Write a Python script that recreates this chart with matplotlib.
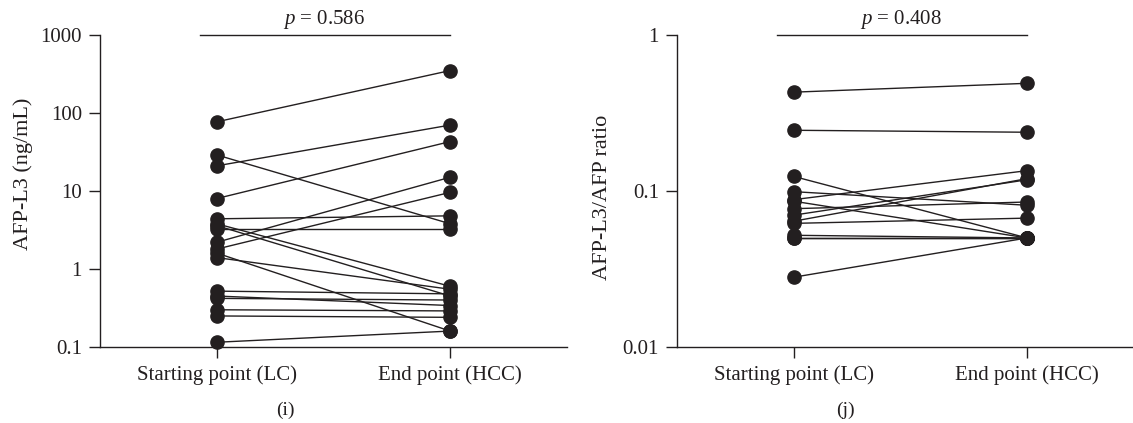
import numpy as np
import matplotlib.pyplot as plt

plt.rcParams['font.family'] = ['Liberation Serif', 'DejaVu Serif']
plt.rcParams['mathtext.fontset'] = 'custom'
plt.rcParams['mathtext.it'] = 'Liberation Serif:italic'
plt.rcParams['mathtext.rm'] = 'Liberation Serif'

categories = ['Starting point (LC)', 'End point (HCC)']

# panel (i): AFP-L3 (ng/mL), one pair per patient
afp_start = [77, 29, 21, 8.0, 4.4, 3.8, 3.6, 3.3, 2.2, 1.8, 1.6, 1.4, 0.52, 0.45, 0.42, 0.30, 0.25, 0.115]
afp_end = [350, 3.8, 70, 43, 4.8, 0.60, 0.45, 3.3, 15, 9.6, 0.16, 0.55, 0.48, 0.34, 0.40, 0.29, 0.24, 0.16]

# panel (j): AFP-L3/AFP ratio
ratio_start = [0.43, 0.245, 0.124, 0.099, 0.088, 0.086, 0.077, 0.070, 0.064, 0.062, 0.052, 0.050, 0.050, 0.028]
ratio_end = [0.49, 0.238, 0.050, 0.081, 0.135, 0.050, 0.085, 0.118, 0.120, 0.067, 0.050, 0.050, 0.050, 0.050]

p_values = ['0.586', '0.408']
ylabels = ['AFP-L3 (ng/mL)', 'AFP-L3/AFP ratio']
panel_tags = ['(i)', '(j)']

fig = plt.figure(figsize=(11.33, 4.23), dpi=100)
ax1 = fig.add_axes([0.0883, 0.1797, 0.412, 0.7376])
ax2 = fig.add_axes([0.5975, 0.1797, 0.412, 0.7376])

ink = '#231f20'
fs = 15


def draw_panel(ax, start, end, ylim, yticks, yticklabels, ylabel, pval, label_pos):
    for a, b in zip(start, end):
        ax.plot([0, 1], [a, b], color=ink, lw=1.0, marker='o', ms=9.5,
                mfc=ink, mec=ink, clip_on=False, zorder=3)
    ax.set_yscale('log')
    ax.set_ylim(*ylim)
    ax.set_xlim(-0.5, 1.5)
    ax.set_yticks(yticks)
    ax.set_yticklabels(yticklabels)
    ax.minorticks_off()
    ax.set_xticks([0, 1])
    ax.set_xticklabels(categories)
    for s in ['top', 'right']:
        ax.spines[s].set_visible(False)
    for s in ['left', 'bottom']:
        ax.spines[s].set_linewidth(1.0)
        ax.spines[s].set_color(ink)
    ax.tick_params(axis='both', direction='out', length=8, width=1.0,
                   colors=ink, labelsize=fs, pad=5)
    ax.set_ylabel(ylabel, fontsize=16, color=ink)
    ax.yaxis.set_label_coords(*label_pos)
    top = ylim[1]
    ax.plot([-0.07, 1.0], [top, top], color=ink, lw=1.0, clip_on=False)
    ax.annotate('$p$ = ' + pval, xy=(0.46, top), xytext=(0, 3),
                textcoords='offset points', ha='center', va='bottom',
                fontsize=fs, color=ink, annotation_clip=False)


draw_panel(ax1, afp_start, afp_end, (0.1, 1000),
           [0.1, 1, 10, 100, 1000], ['0.1', '1', '10', '100', '1000'],
           ylabels[0], p_values[0], (-0.143, 0.555))
draw_panel(ax2, ratio_start, ratio_end, (0.01, 1),
           [0.01, 0.1, 1], ['0.01', '0.1', '1'],
           ylabels[1], p_values[1], (-0.139, 0.48))

fig.text(285 / 1133, 1 - 410 / 423, panel_tags[0], ha='center', va='center',
         fontsize=14, color=ink)
fig.text(845 / 1133, 1 - 410 / 423, panel_tags[1], ha='center', va='center',
         fontsize=14, color=ink)

fig.savefig('out.png', dpi=100)
